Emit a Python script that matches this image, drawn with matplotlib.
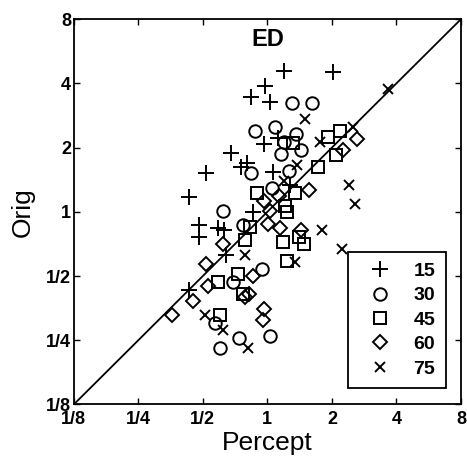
import matplotlib.pyplot as plt
import numpy as np

plt.rcParams['font.family'] = ['Liberation Sans', 'DejaVu Sans']

# percept (x) / orig (y) values per series
x15 = [1.19, 2.03, 0.97, 0.84, 1.03, 0.96, 1.12, 0.68, 0.80, 0.75, 0.52, 1.06, 0.43, 1.27, 0.86, 0.48, 0.48, 0.59, 0.63, 0.64, 0.43]
y15 = [4.58, 4.54, 3.89, 3.47, 3.26, 2.08, 2.21, 1.89, 1.70, 1.63, 1.52, 1.54, 1.17, 1.34, 1.00, 0.87, 0.76, 0.84, 0.82, 0.63, 0.43]

x30 = [1.31, 1.61, 0.88, 1.08, 1.36, 1.19, 1.44, 1.16, 0.84, 1.26, 1.05, 0.62, 0.77, 0.94, 0.69, 0.57, 0.74, 1.03, 0.60]
y30 = [3.23, 3.23, 2.40, 2.51, 2.31, 2.13, 1.94, 1.87, 1.52, 1.55, 1.29, 1.01, 0.87, 0.54, 0.47, 0.30, 0.255, 0.262, 0.229]

x45 = [2.19, 1.92, 1.32, 2.08, 1.73, 0.89, 1.34, 1.21, 1.23, 0.83, 0.79, 1.18, 1.41, 1.48, 1.24, 0.73, 0.59, 0.77, 0.60]
y45 = [2.40, 2.25, 2.10, 1.85, 1.63, 1.23, 1.22, 1.06, 1.00, 0.85, 0.74, 0.72, 0.76, 0.71, 0.59, 0.51, 0.47, 0.41, 0.33]

x60 = [2.63, 2.26, 1.57, 1.13, 0.96, 1.03, 1.01, 1.14, 1.44, 0.62, 0.52, 0.53, 0.86, 0.79, 0.82, 0.45, 0.36, 0.96, 0.95]
y60 = [2.19, 1.95, 1.26, 1.18, 1.12, 1.01, 0.88, 0.84, 0.82, 0.71, 0.57, 0.45, 0.50, 0.40, 0.41, 0.38, 0.33, 0.35, 0.31]

x75 = [3.66, 2.50, 1.50, 1.76, 1.37, 1.19, 2.41, 2.56, 1.79, 2.22, 0.79, 1.34, 0.51, 0.62, 0.81]
y75 = [3.76, 2.49, 2.73, 2.13, 1.66, 1.39, 1.33, 1.09, 0.82, 0.67, 0.63, 0.58, 0.33, 0.28, 0.23]

ticks = [1/8, 1/4, 1/2, 1, 2, 4, 8]
ticklabels = ['1/8', '1/4', '1/2', '1', '2', '4', '8']

fig = plt.figure(figsize=(4.67, 4.57), dpi=100)
ax = fig.add_axes([0.158, 0.115, 0.829, 0.843])

ax.plot([1/8, 8], [1/8, 8], color='k', lw=1.3)

mew = 1.4
ax.plot(x15, y15, '+', color='k', ms=11, mew=mew, label='15')
ax.plot(x30, y30, 'o', mfc='none', mec='k', ms=9, mew=mew, label='30')
ax.plot(x45, y45, 's', mfc='none', mec='k', ms=8, mew=mew, label='45')
ax.plot(x60, y60, 'D', mfc='none', mec='k', ms=7, mew=mew, label='60')
ax.plot(x75, y75, 'x', color='k', ms=7, mew=mew, label='75')

ax.set_xscale('log', base=2)
ax.set_yscale('log', base=2)
ax.set_xlim(1/8, 8)
ax.set_ylim(1/8, 8)
ax.set_xticks(ticks)
ax.set_xticklabels(ticklabels, fontsize=13, fontweight='bold')
ax.set_yticks(ticks)
ax.set_yticklabels(ticklabels, fontsize=13, fontweight='bold')
ax.minorticks_off()
ax.tick_params(direction='in', top=True, right=True, length=4, width=1, pad=2)
ax.tick_params(axis='x', pad=5)
for s in ax.spines.values():
    s.set_linewidth(1.3)

ax.set_xlabel('Percept', fontsize=19, labelpad=2)
ax.set_ylabel('Orig', fontsize=19, labelpad=8)
ax.text(0.5, 0.947, 'ED', transform=ax.transAxes, ha='center', va='center',
        fontsize=17, fontweight='bold')

leg = ax.legend(loc='lower right', bbox_to_anchor=(0.961, 0.042), borderaxespad=0,
                fancybox=False, edgecolor='k', framealpha=1,
                prop={'size': 14, 'weight': 'bold'},
                handletextpad=0.6, labelspacing=0.35, borderpad=0.55, handlelength=2.2)
leg.get_frame().set_linewidth(1.3)

fig.savefig('out.png', dpi=100)
